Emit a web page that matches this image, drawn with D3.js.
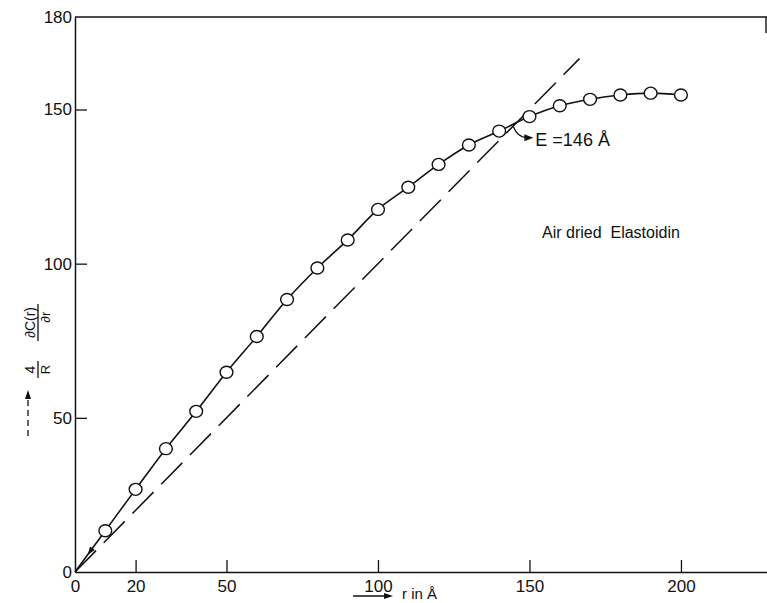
<!DOCTYPE html>
<html>
<head>
<meta charset="utf-8">
<script src="https://cdn.jsdelivr.net/npm/d3@7"></script>
<style>
  html, body { margin: 0; padding: 0; background: #fff; }
  svg { display: block; }
  text { font-family: "Liberation Sans", Arial, sans-serif; fill: #111; }
</style>
</head>
<body>
<div id="chart"></div>
<script>
// ---- data ----
const rValues = [10, 20, 30, 40, 50, 60, 70, 80, 90, 100, 110, 120, 130, 140, 150, 160, 170, 180, 190, 200];
const derivValues = [13.4, 26.8, 40.0, 52.1, 64.8, 76.4, 88.4, 98.6, 107.7, 117.6, 124.8, 132.2, 138.5, 143.0, 147.7, 151.2, 153.3, 154.7, 155.3, 154.7];
const tangentR = [0, 166.5];
const tangentV = [0, 166.5];
const xTicks = [0, 20, 50, 100, 150, 200];
const yTicks = [0, 50, 100, 150, 180];
const E_value = 146;
const annotationText = "E =146 Å";
const sampleLabel = "Air dried  Elastoidin";

const W = 767, H = 603;
const svg = d3.select("#chart").append("svg").attr("width", W).attr("height", H);

const x = d3.scaleLinear().domain([0, 228.4]).range([75, 767]);
const y = d3.scaleLinear().domain([0, 180]).range([572, 17]);

// frame top
svg.append("line").attr("x1", x(0)).attr("x2", W).attr("y1", y(180)).attr("y2", y(180))
  .attr("stroke", "#111").attr("stroke-width", 1.4);
svg.append("line").attr("x1", W - 1).attr("x2", W - 1).attr("y1", y(180)).attr("y2", y(180) + 16)
  .attr("stroke", "#111").attr("stroke-width", 1.4);

// axes
const xAxis = d3.axisBottom(x).tickValues(xTicks).tickSizeInner(-12).tickSizeOuter(0).tickPadding(8)
  .tickFormat(d3.format("d"));
const gx = svg.append("g").attr("transform", `translate(0,${y(0)})`).call(xAxis);
gx.select(".domain").attr("stroke", "#111").attr("stroke-width", 1.5);
gx.selectAll(".tick line").attr("stroke", "#111").attr("stroke-width", 1.3)
  .attr("display", d => d === 0 ? "none" : null);
gx.selectAll(".tick text").style("font-size", "17px").style("font-family", "Liberation Sans, Arial, sans-serif").attr("fill", "#111");

const yAxis = d3.axisLeft(y).tickValues(yTicks).tickSizeInner(-12).tickSizeOuter(0).tickPadding(3)
  .tickFormat(d3.format("d"));
const gy = svg.append("g").attr("transform", `translate(${x(0)},0)`).call(yAxis);
gy.select(".domain").attr("stroke", "#111").attr("stroke-width", 1.5);
gy.selectAll(".tick line").attr("stroke", "#111").attr("stroke-width", 1.3)
  .attr("display", d => (d === 0 || d === 180) ? "none" : null);
gy.selectAll(".tick text").style("font-size", "17px").style("font-family", "Liberation Sans, Arial, sans-serif").attr("fill", "#111");

// tangent dashed line
const tangent = tangentR.map((r, i) => [r, tangentV[i]]);
svg.append("path").datum(tangent)
  .attr("d", d3.line().x(d => x(d[0])).y(d => y(d[1])))
  .attr("fill", "none").attr("stroke", "#111").attr("stroke-width", 1.5)
  .attr("stroke-dasharray", "30,11");

// data curve from origin
const pts = [[0, 0]].concat(rValues.map((r, i) => [r, derivValues[i]]));
svg.append("path").datum(pts)
  .attr("d", d3.line().x(d => x(d[0])).y(d => y(d[1])).curve(d3.curveCatmullRom))
  .attr("fill", "none").attr("stroke", "#111").attr("stroke-width", 1.6);

// small arrowhead near the origin on the curve
{
  const p0 = [x(0), y(0)], p1 = [x(rValues[0]), y(derivValues[0])];
  const ang = Math.atan2(p0[1] - p1[1], p0[0] - p1[0]);
  const tip = [p0[0] + (p1[0] - p0[0]) * 0.42, p0[1] + (p1[1] - p0[1]) * 0.42];
  const L = 8, Wd = 3;
  const bx = tip[0] - L * Math.cos(ang), by = tip[1] - L * Math.sin(ang);
  const nx = -Math.sin(ang) * Wd, ny = Math.cos(ang) * Wd;
  svg.append("path")
    .attr("d", `M${tip[0]},${tip[1]}L${bx + nx},${by + ny}L${bx - nx},${by - ny}Z`)
    .attr("fill", "#111");
}

// markers
svg.selectAll("ellipse.pt").data(rValues.map((r, i) => [r, derivValues[i]])).enter()
  .append("ellipse").attr("class", "pt")
  .attr("cx", d => x(d[0])).attr("cy", d => y(d[1]))
  .attr("rx", 6.4).attr("ry", 6)
  .attr("fill", "#fff").attr("stroke", "#111").attr("stroke-width", 1.4);

// annotation E
{
  const ex = x(E_value), ey = y(E_value);
  const sx = ex - 4, sy = ey + 5;
  const tx = ex + 15, ty = ey + 16;
  svg.append("path").attr("d", `M${sx},${sy}Q${sx + 4},${ty - 1} ${tx - 6},${ty}`)
    .attr("fill", "none").attr("stroke", "#111").attr("stroke-width", 1.3);
  svg.append("path").attr("d", `M${tx + 1},${ty}L${tx - 8},${ty - 3.5}L${tx - 8},${ty + 3.5}Z`).attr("fill", "#111");
  svg.append("text").attr("x", ex + 18).attr("y", ey + 24)
    .style("font-size", "18px").text(annotationText);
}

// sample label
svg.append("text").attr("x", 542).attr("y", 238).style("font-size", "16px")
  .attr("xml:space", "preserve").style("white-space", "pre").text(sampleLabel);

// x-axis title: arrow + "r in Å"
{
  const ay = 596;
  svg.append("line").attr("x1", 353).attr("x2", 386).attr("y1", ay).attr("y2", ay)
    .attr("stroke", "#111").attr("stroke-width", 1.5);
  svg.append("path").attr("d", `M393,${ay}L384,${ay - 3}L384,${ay + 3}Z`).attr("fill", "#111");
  svg.append("text").attr("x", 402).attr("y", 599).style("font-size", "15px").text("r in Å");
}

// y-axis title (rotated)
{
  const g = svg.append("g").attr("transform", "translate(38,0) rotate(-90)");
  // dashed arrow
  g.append("line").attr("x1", -436).attr("x2", -398).attr("y1", -10).attr("y2", -10)
    .attr("stroke", "#111").attr("stroke-width", 1.3).attr("stroke-dasharray", "6,4");
  g.append("path").attr("d", "M-390,-10L-399,-13L-399,-7Z").attr("fill", "#111");
  // 4 / R
  g.append("line").attr("x1", -378).attr("x2", -361).attr("y1", 0).attr("y2", 0)
    .attr("stroke", "#111").attr("stroke-width", 1.3);
  g.append("text").attr("x", -369.5).attr("y", -3).attr("text-anchor", "middle")
    .style("font-size", "14px").text("4");
  g.append("text").attr("x", -369.5).attr("y", 12).attr("text-anchor", "middle")
    .style("font-size", "13px").text("R");
  // dC(r)/dr
  g.append("line").attr("x1", -341).attr("x2", -304).attr("y1", 0).attr("y2", 0)
    .attr("stroke", "#111").attr("stroke-width", 1.3);
  g.append("text").attr("x", -322.5).attr("y", -3).attr("text-anchor", "middle")
    .style("font-size", "14px").text("∂C(r)");
  g.append("text").attr("x", -317).attr("y", 12).attr("text-anchor", "middle")
    .style("font-size", "13px").text("∂r");
}
</script>
</body>
</html>
